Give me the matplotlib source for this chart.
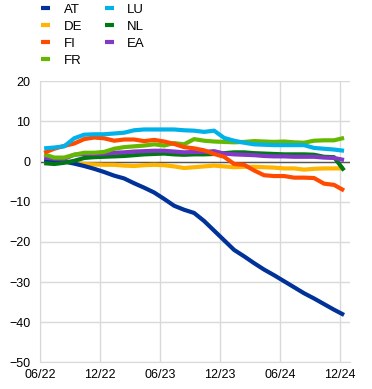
import numpy as np
import matplotlib.pyplot as plt
from matplotlib.lines import Line2D

# monthly observations, 06/22 .. 12/24
tick_labels = ['06/22', '12/22', '06/23', '12/23', '06/24', '12/24']
countries = ['AT', 'DE', 'FI', 'FR', 'LU', 'NL', 'EA']

AT = [0.4, 0.2, 0.0, -0.5, -1.1, -1.8, -2.6, -3.5, -4.2, -5.4, -6.5, -7.7, -9.3, -11.0,
      -12.0, -12.8, -14.8, -17.2, -19.6, -22.0, -23.6, -25.3, -26.9, -28.3, -29.8, -31.3,
      -32.8, -34.1, -35.5, -36.9, -38.2]
DE = [0.3, 0.1, 0.0, -0.2, -0.6, -0.7, -0.8, -0.8, -1.0, -1.1, -0.9, -0.8, -0.9, -1.2,
      -1.6, -1.4, -1.2, -1.0, -1.2, -1.4, -1.3, -1.3, -1.4, -1.5, -1.7, -1.7, -2.0, -1.8,
      -1.7, -1.7, -1.7]
FI = [2.2, 3.2, 3.9, 4.5, 5.6, 6.0, 5.8, 5.2, 5.5, 5.5, 5.1, 5.4, 5.0, 4.4, 3.6, 3.3,
      2.8, 1.9, 1.2, -0.6, -0.8, -2.2, -3.4, -3.6, -3.6, -4.0, -4.0, -4.1, -5.5, -5.8, -7.2]
FR = [1.8, 1.0, 1.0, 1.7, 2.2, 2.2, 2.4, 3.2, 3.6, 3.8, 4.0, 4.3, 4.0, 4.6, 4.3, 5.6,
      5.2, 5.0, 4.9, 4.8, 4.9, 5.1, 5.0, 4.9, 5.0, 4.8, 4.7, 5.2, 5.3, 5.3, 5.9]
LU = [3.3, 3.5, 3.8, 5.8, 6.7, 6.8, 6.8, 7.0, 7.2, 7.8, 8.0, 8.0, 8.0, 8.0, 7.8, 7.7,
      7.4, 7.7, 5.9, 5.2, 4.7, 4.3, 4.2, 4.1, 4.1, 4.1, 4.1, 3.4, 3.2, 3.0, 2.7]
NL = [-0.4, -0.6, -0.3, 0.2, 0.9, 1.1, 1.2, 1.3, 1.4, 1.6, 1.8, 1.9, 2.0, 1.8, 1.7, 1.8,
      1.8, 1.9, 2.1, 2.3, 2.3, 2.1, 2.0, 1.9, 1.8, 1.8, 1.8, 1.7, 1.2, 1.1, -2.2]
EA = [1.0, 0.7, 0.7, 1.7, 1.9, 1.9, 2.0, 2.2, 2.3, 2.5, 2.6, 2.7, 2.7, 2.5, 2.3, 2.4,
      2.4, 2.6, 2.0, 1.8, 1.7, 1.6, 1.4, 1.3, 1.3, 1.2, 1.2, 1.2, 1.0, 0.9, 0.4]

colors = {'AT': '#003299', 'DE': '#FFB400', 'FI': '#FF4B00', 'FR': '#65B800',
          'LU': '#00B1EA', 'NL': '#007816', 'EA': '#8139C6'}
series = {'AT': AT, 'DE': DE, 'FI': FI, 'FR': FR, 'LU': LU, 'NL': NL, 'EA': EA}

plt.rcParams['font.family'] = ['Liberation Sans', 'DejaVu Sans']

fig = plt.figure(figsize=(3.72, 3.89), dpi=100)
ax = fig.add_axes([0.108, 0.0686, 0.833, 0.7224])

x = np.arange(len(AT)) + 0.4
# draw order: back to front
for c in ['DE', 'AT', 'NL', 'EA', 'FR', 'FI', 'LU']:
    ax.plot(x, series[c], color=colors[c], lw=3, solid_capstyle='butt', zorder=3)

ax.axhline(0, color='#555555', lw=1, zorder=2)
ax.set_xlim(0, 31)
ax.set_ylim(-50, 20)
ax.set_yticks(np.arange(-50, 21, 10))
ax.set_xticks(np.arange(0, 31, 6))
ax.set_xticklabels(tick_labels)
ax.grid(True, color='#d9d9d9', lw=1, zorder=0)
ax.set_axisbelow(True)
for s in ['top', 'right']:
    ax.spines[s].set_visible(False)
for s in ['left', 'bottom']:
    ax.spines[s].set_color('#d9d9d9')
ax.tick_params(length=0, labelsize=9, colors='black')
ax.tick_params(axis='y', pad=7)
ax.tick_params(axis='x', pad=5)

handles = [Line2D([], [], color=colors[c], lw=3, solid_capstyle='butt') for c in countries]
fig.legend(handles, countries, loc='upper left', bbox_to_anchor=(0.079, 1.021), ncol=2,
           frameon=False, fontsize=9.5, handlelength=0.7, handletextpad=1.0,
           columnspacing=1.7, labelspacing=0.36)

fig.savefig('out.png', dpi=100)
